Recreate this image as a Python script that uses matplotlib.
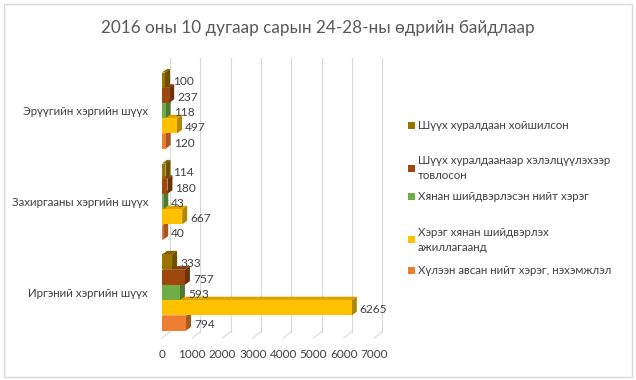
import matplotlib.pyplot as plt
from matplotlib.patches import Polygon, Rectangle
import numpy as np

plt.rcParams['font.family'] = ['Lato', 'Noto Sans', 'DejaVu Sans']

categories = ['Иргэний хэргийн шүүх', 'Захиргааны хэргийн шүүх', 'Эрүүгийн хэргийн шүүх']
# series listed bottom to top within each group
series_names = ['Хүлээн авсан нийт хэрэг, нэхэмжлэл',
                'Хэрэг хянан шийдвэрлэх\nажиллагаанд',
                'Хянан шийдвэрлэсэн нийт хэрэг',
                'Шүүх хуралдаанаар хэлэлцүүлэхээр\nтовлосон',
                'Шүүх хуралдаан хойшилсон']
received = [794, 40, 120]
in_process = [6265, 667, 497]
resolved = [593, 43, 118]
scheduled = [757, 180, 237]
postponed = [333, 114, 100]
values = [received, in_process, resolved, scheduled, postponed]
colors = ['#ED7D31', '#FFC000', '#70AD47', '#9E480E', '#997300']
xticks = [0, 1000, 2000, 3000, 4000, 5000, 6000, 7000]

title = '2016 оны 10 дугаар сарын 24-28-ны өдрийн байдлаар'


def shade(c, f):
    r, g, b = plt.matplotlib.colors.to_rgb(c)
    return (r * f, g * f, b * f)


fig = plt.figure(figsize=(6.36, 3.8), dpi=100)
fig.patches.append(Rectangle((0.006, 0.008), 0.988, 0.982, transform=fig.transFigure,
                             fill=False, edgecolor='#D9D9D9', linewidth=1))
ax = fig.add_axes([0.2547, 0.1105, 0.3478, 0.718])
ax.set_xlim(0, 7300)
ax.set_ylim(-0.5, 2.5)
for s in ax.spines.values():
    s.set_visible(False)

# depth of 3d effect in data units
dx, dy = 165, 0.04
gdx, gdy = 270, 0.07
step, h = 0.168, 0.165

# back wall gridlines + floor
for t in xticks:
    ax.plot([t, t + gdx], [-0.5, -0.5 + gdy], color='#D9D9D9', lw=0.8, zorder=0, clip_on=False)
    ax.plot([t + gdx, t + gdx], [-0.5 + gdy, 2.58], color='#D9D9D9', lw=0.8, zorder=0, clip_on=False)

z = 1
for ci in range(len(categories)):
    for si in range(len(values)):
        v = values[si][ci]
        y0 = ci + (si - 2) * step - h / 2
        c = colors[si]
        top = Polygon([(0, y0 + h), (dx, y0 + h + dy), (v + dx, y0 + h + dy), (v, y0 + h)],
                      closed=True, facecolor=shade(c, 0.85), edgecolor='none', zorder=z)
        side = Polygon([(v, y0), (v + dx, y0 + dy), (v + dx, y0 + h + dy), (v, y0 + h)],
                       closed=True, facecolor=shade(c, 0.7), edgecolor='none', zorder=z)
        ax.add_patch(top)
        ax.add_patch(side)
        ax.barh(y0 + h / 2, v, height=h, color=c, zorder=z)
        ax.text(v + dx + 100, y0 + h / 2 - 0.02, str(v), va='center', ha='left',
                fontsize=8.6, color='#404040', zorder=20)
        z += 1

ax.set_yticks(range(len(categories)))
ax.set_yticklabels(categories, fontsize=8.3, color='#404040')
ax.set_xticks(xticks)
ax.set_xticklabels([str(t) for t in xticks], fontsize=8.5, color='#404040')
ax.tick_params(axis='x', length=0, pad=8)
ax.tick_params(axis='y', length=0, pad=10)

fig.text(0.5, 0.925, title, ha='center', va='center', fontsize=12.3, color='#595959')

# legend
leg_y = [126, 168, 197, 240, 270]
for si in reversed(range(len(series_names))):
    yy = 1 - leg_y[4 - si] / 380
    fig.patches.append(Rectangle((408 / 636, yy - 3.5 / 380), 7 / 636, 7 / 380,
                                 transform=fig.transFigure, facecolor=colors[si], edgecolor='none'))
    fig.text(418 / 636, yy, series_names[si], ha='left', va='center', fontsize=8.3,
             color='#404040', linespacing=1.45)

fig.savefig('out.png', dpi=100)
